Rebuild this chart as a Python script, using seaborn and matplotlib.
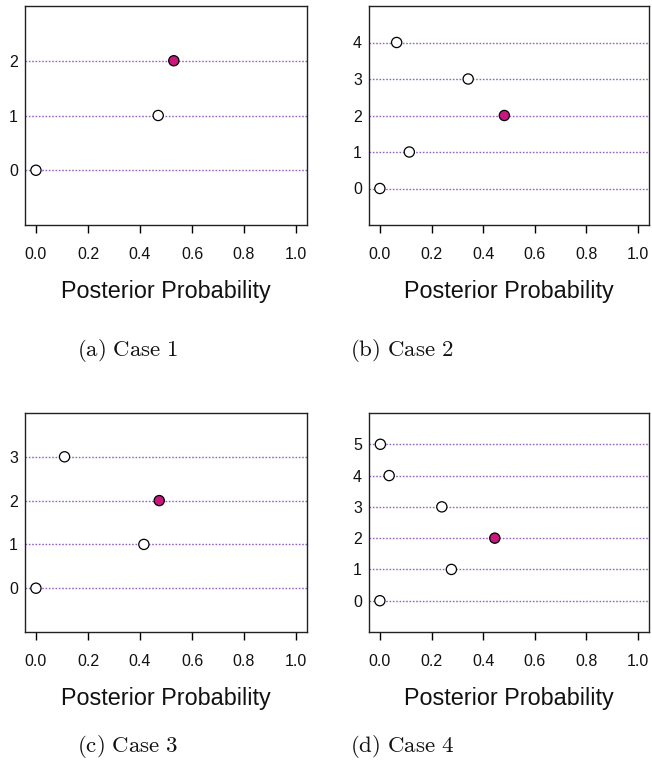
import matplotlib
matplotlib.use("Agg")
import matplotlib.pyplot as plt
import seaborn as sns
import pandas as pd

sns.set_theme(style="white")
plt.rcParams['font.family'] = ['Liberation Sans', 'DejaVu Sans']
plt.rcParams['mathtext.fontset'] = 'cm'

# Data: posterior probability per count value; highlighted = maximum a posteriori
case1_vals = [0.0, 0.47, 0.53]
case2_vals = [0.0, 0.114, 0.482, 0.342, 0.065]
case3_vals = [0.0, 0.415, 0.474, 0.110]
case4_vals = [0.0, 0.277, 0.445, 0.240, 0.036, 0.002]
highlight = [2, 2, 2, 2]
captions = ["(a)\\ Case\\ 1", "(b)\\ Case\\ 2", "(c)\\ Case\\ 3", "(d)\\ Case\\ 4"]
x_ticks = [0.0, 0.2, 0.4, 0.6, 0.8, 1.0]
x_label = "Posterior Probability"

all_vals = [case1_vals, case2_vals, case3_vals, case4_vals]

W, H = 652, 778
fig = plt.figure(figsize=(W / 100, H / 100), dpi=100)
fig.patch.set_facecolor("white")

# axes boxes in pixels: left, top, right, bottom
boxes = [(25, 6, 307, 225), (369, 6, 649, 225), (25, 413, 307, 632), (369, 413, 649, 632)]
cap_pos = [(128, 350), (402, 350), (128, 747), (402, 747)]

line_col = "#9464C2"
hi_col = "#C8177E"

for i, vals in enumerate(all_vals):
    l, t, r, b = boxes[i]
    ax = fig.add_axes([l / W, 1 - b / H, (r - l) / W, (b - t) / H])
    n = len(vals)
    df = pd.DataFrame({
        "prob": vals,
        "count": list(range(n)),
        "sel": ["yes" if k == highlight[i] else "no" for k in range(n)],
    })
    for k in df["count"]:
        ax.axhline(k, color=line_col, lw=1.0, ls=(0, (1.2, 1.2)), zorder=1)
    sns.scatterplot(data=df, x="prob", y="count", hue="sel",
                    palette={"yes": hi_col, "no": "white"},
                    edgecolor="black", linewidth=0.9, s=54, legend=False,
                    ax=ax, zorder=3)
    ax.set_xlim(-0.042, 1.042)
    ax.set_ylim(-1, n)
    ax.set_xticks(x_ticks)
    ax.set_xticklabels([f"{v:.1f}" for v in x_ticks])
    ax.set_yticks(list(range(n)))
    ax.set_yticklabels([str(k) for k in range(n)])
    ax.tick_params(axis="x", direction="out", length=5.5, width=1, color="black",
                   pad=10, labelsize=11.5, labelcolor="#111111", bottom=True)
    ax.tick_params(axis="y", length=0, pad=5, labelsize=11.5, labelcolor="#111111", left=False)
    for sp in ax.spines.values():
        sp.set_color("#222222")
        sp.set_linewidth(1.0)
    ax.set_xlabel(x_label, fontsize=16.8, labelpad=13, color="#111111")
    ax.set_ylabel("")
    ax.grid(False)
    cx, cy = cap_pos[i]
    fig.text(cx / W, 1 - cy / H, "$\\mathrm{" + captions[i] + "}$", ha="center", va="center",
             fontsize=16.5, color="#111111")

fig.savefig("out.png", dpi=100, facecolor="white")
